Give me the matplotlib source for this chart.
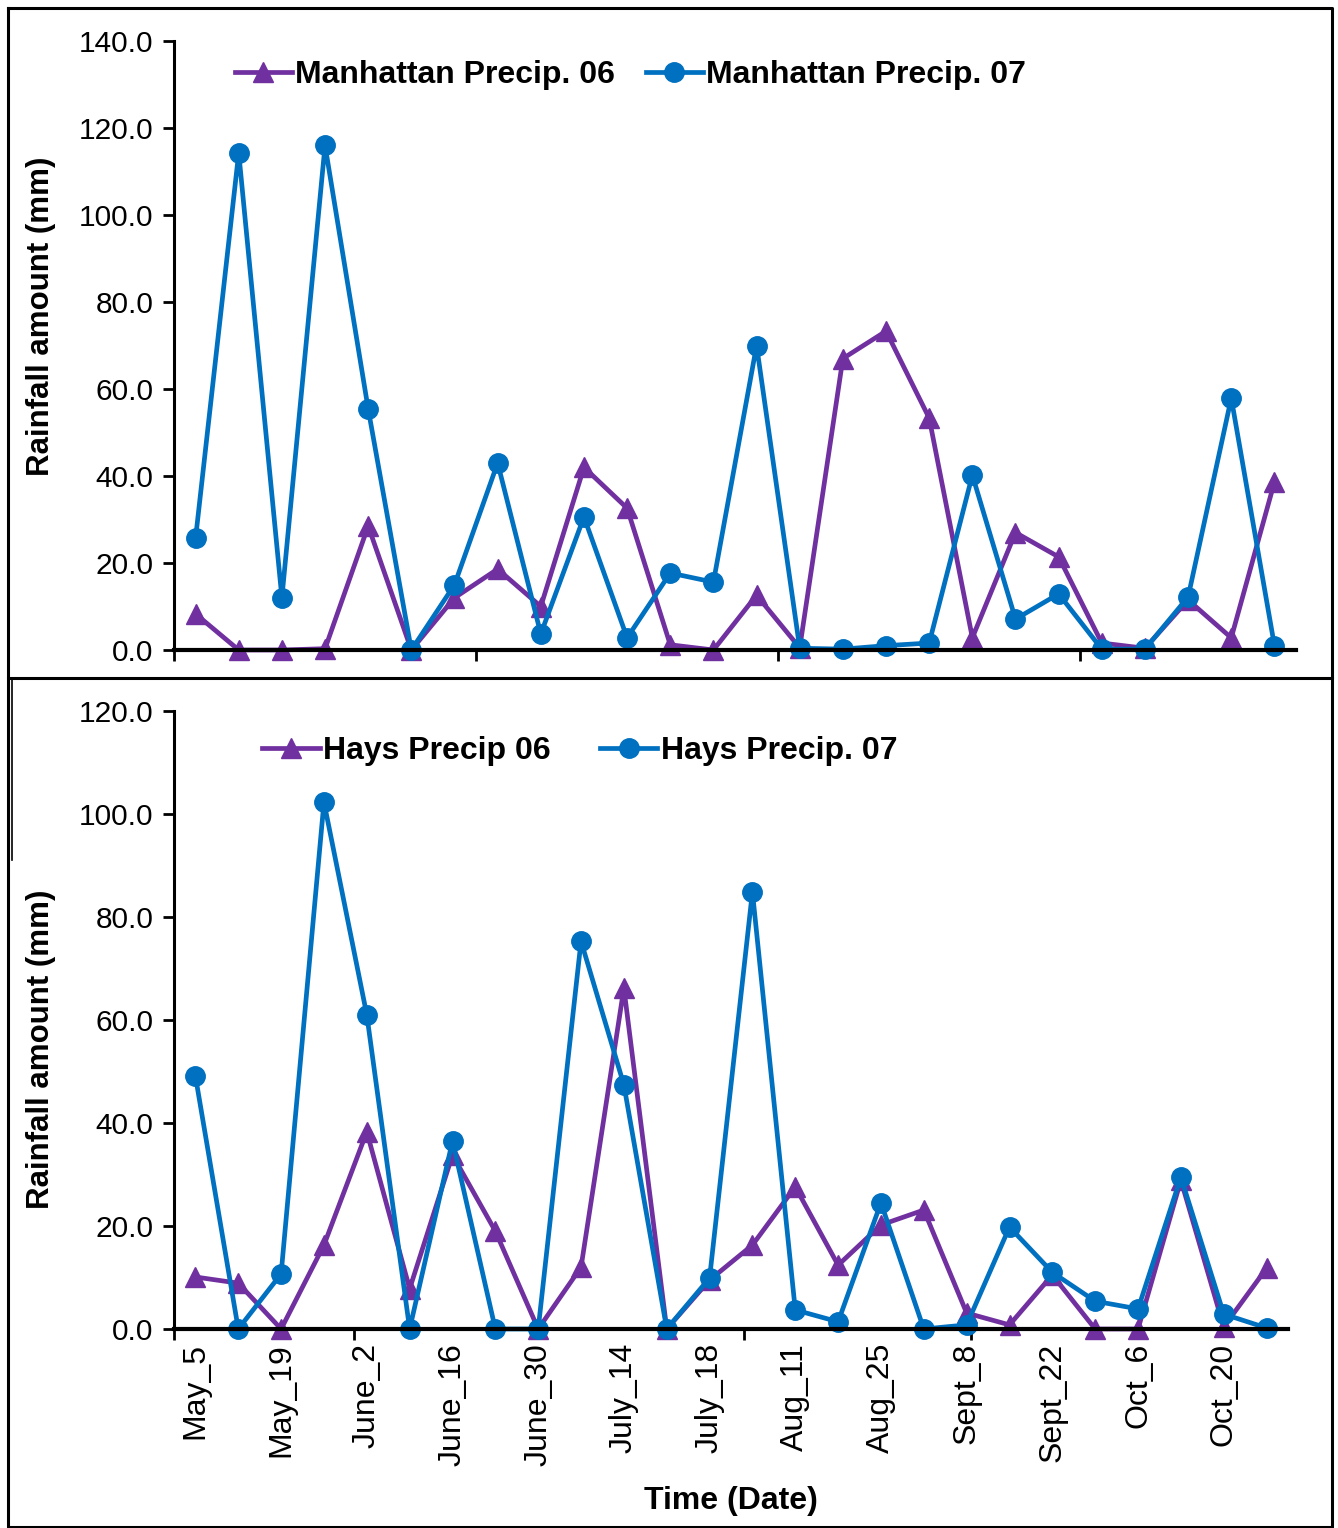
import matplotlib
matplotlib.use("Agg")
import matplotlib.pyplot as plt
from matplotlib.lines import Line2D
import numpy as np

plt.rcParams['font.family'] = ['Liberation Sans', 'DejaVu Sans']

# weekly dates, May 5 to Oct 27
dates = ["May_5", "May_12", "May_19", "May_26", "June_2", "June_9", "June_16",
         "June_23", "June_30", "July_7", "July_14", "July_21", "July_18",
         "Aug_4", "Aug_11", "Aug_18", "Aug_25", "Sept_1", "Sept_8", "Sept_15",
         "Sept_22", "Sept_29", "Oct_6", "Oct_13", "Oct_20", "Oct_27"]

manhattan_06 = [8.3, 0, 0, 0.3, 28.5, 0, 12.0, 18.6, 10.0, 42.0, 32.6, 1.2, 0,
                12.6, 0.5, 67.0, 73.3, 53.3, 2.8, 27.0, 21.4, 1.6, 0.4, 11.5, 2.8, 38.6]
manhattan_07 = [25.7, 114.3, 12.0, 116.0, 55.4, 0, 15.0, 43.0, 3.7, 30.6, 2.8, 17.7,
                15.6, 70.0, 0.4, 0.2, 1.0, 1.6, 40.2, 7.1, 12.9, 0.2, 0.2, 12.2, 57.9, 1.0]

hays_06 = [10.1, 8.9, 0, 16.3, 38.3, 7.8, 33.8, 19.0, 0, 12.0, 66.2, 0, 9.5, 16.3,
           27.6, 12.4, 20.2, 23.1, 3.1, 0.8, 10.5, 0, 0, 28.9, 0.4, 11.8]
hays_07 = [49.1, 0, 10.7, 102.3, 61.0, 0, 36.5, 0, 0, 75.3, 47.4, 0, 9.9, 84.9,
           3.7, 1.4, 24.5, 0, 0.8, 19.8, 11.0, 5.4, 3.9, 29.5, 2.9, 0.2]

purple = "#7030A0"
blue = "#0070C0"

W, H = 1338, 1528
fig = plt.figure(figsize=(W / 100, H / 100), dpi=100)


def px_axes(x0, y0, x1, y1):
    # pixel box (top-left origin) -> figure fraction
    return fig.add_axes([x0 / W, 1 - y1 / H, (x1 - x0) / W, (y1 - y0) / H])


def style(ax, ymax, ystep, label_y):
    x = np.arange(len(dates))
    ax.set_xlim(-0.5, 25.5)
    ax.set_ylim(0, ymax)
    ax.set_yticks(np.arange(0, ymax + 0.1, ystep))
    ax.set_yticklabels(["%.1f" % v for v in np.arange(0, ymax + 0.1, ystep)])
    for s in ["top", "right"]:
        ax.spines[s].set_visible(False)
    ax.spines["left"].set_linewidth(2.2)
    ax.spines["bottom"].set_linewidth(3)
    ax.tick_params(axis="y", direction="out", length=8, width=2, labelsize=21.5, pad=7)
    ax.set_ylabel("Rainfall amount (mm)", fontsize=22.5, fontweight="bold")
    ax.yaxis.set_label_coords(-118 / ax.bbox.width, label_y)
    ax.set_facecolor("none")
    return x


lw = 3.4
ms = 14
leg_kw = dict(loc="center left", ncol=2, frameon=False, borderpad=0, borderaxespad=0,
              prop={"size": 23, "weight": "bold"}, handlelength=1.8, handletextpad=0.1)

# top panel: Manhattan
ax1 = px_axes(174, 41, 1296, 650)
x = style(ax1, 140, 20, 0.548)
ax1.plot(x, manhattan_06, color=purple, lw=lw, marker="^", ms=ms,
         label="Manhattan Precip. 06", clip_on=False)
ax1.plot(x, manhattan_07, color=blue, lw=lw, marker="o", ms=ms,
         label="Manhattan Precip. 07", clip_on=False)
ax1.set_xticks([-0.5, 6.5, 13.5, 20.5])
ax1.set_xticklabels([])
ax1.tick_params(axis="x", direction="out", length=8, width=2)
ax1.legend(bbox_to_anchor=(0.054, 0.944), columnspacing=0.95, **leg_kw)

# bottom panel: Hays
ax2 = px_axes(174, 711, 1288, 1329)
x = style(ax2, 120, 20, 0.453)
ax2.plot(x, hays_06, color=purple, lw=lw, marker="^", ms=ms,
         label="Hays Precip 06", clip_on=False)
ax2.plot(x, hays_07, color=blue, lw=lw, marker="o", ms=ms,
         label="Hays Precip. 07", clip_on=False)
ax2.set_xticks(x[::2])
ax2.set_xticklabels(dates[::2], rotation=90, fontsize=23)
ax2.tick_params(axis="x", length=0, pad=10)
ax2.set_xticks([-0.5, 3.7, 12.8, 18.1], minor=True)
ax2.tick_params(axis="x", which="minor", direction="out", length=8, width=2)
ax2.set_xlabel("Time (Date)", fontsize=23, fontweight="bold", labelpad=15)
ax2.legend(bbox_to_anchor=(0.079, 0.935), columnspacing=1.55, **leg_kw)

# panel frames
def fline(xs, ys, lw=2.2):
    fig.add_artist(Line2D([v / W for v in xs], [1 - v / H for v in ys],
                          color="black", lw=lw))

fline([8, 1332, 1332, 8, 8], [8, 8, 678, 678, 8])
fline([8, 8, 1332, 1332], [678, 1527, 1527, 678])
fline([12, 12], [680, 860], lw=1.2)

fig.savefig("out.png", dpi=100)
